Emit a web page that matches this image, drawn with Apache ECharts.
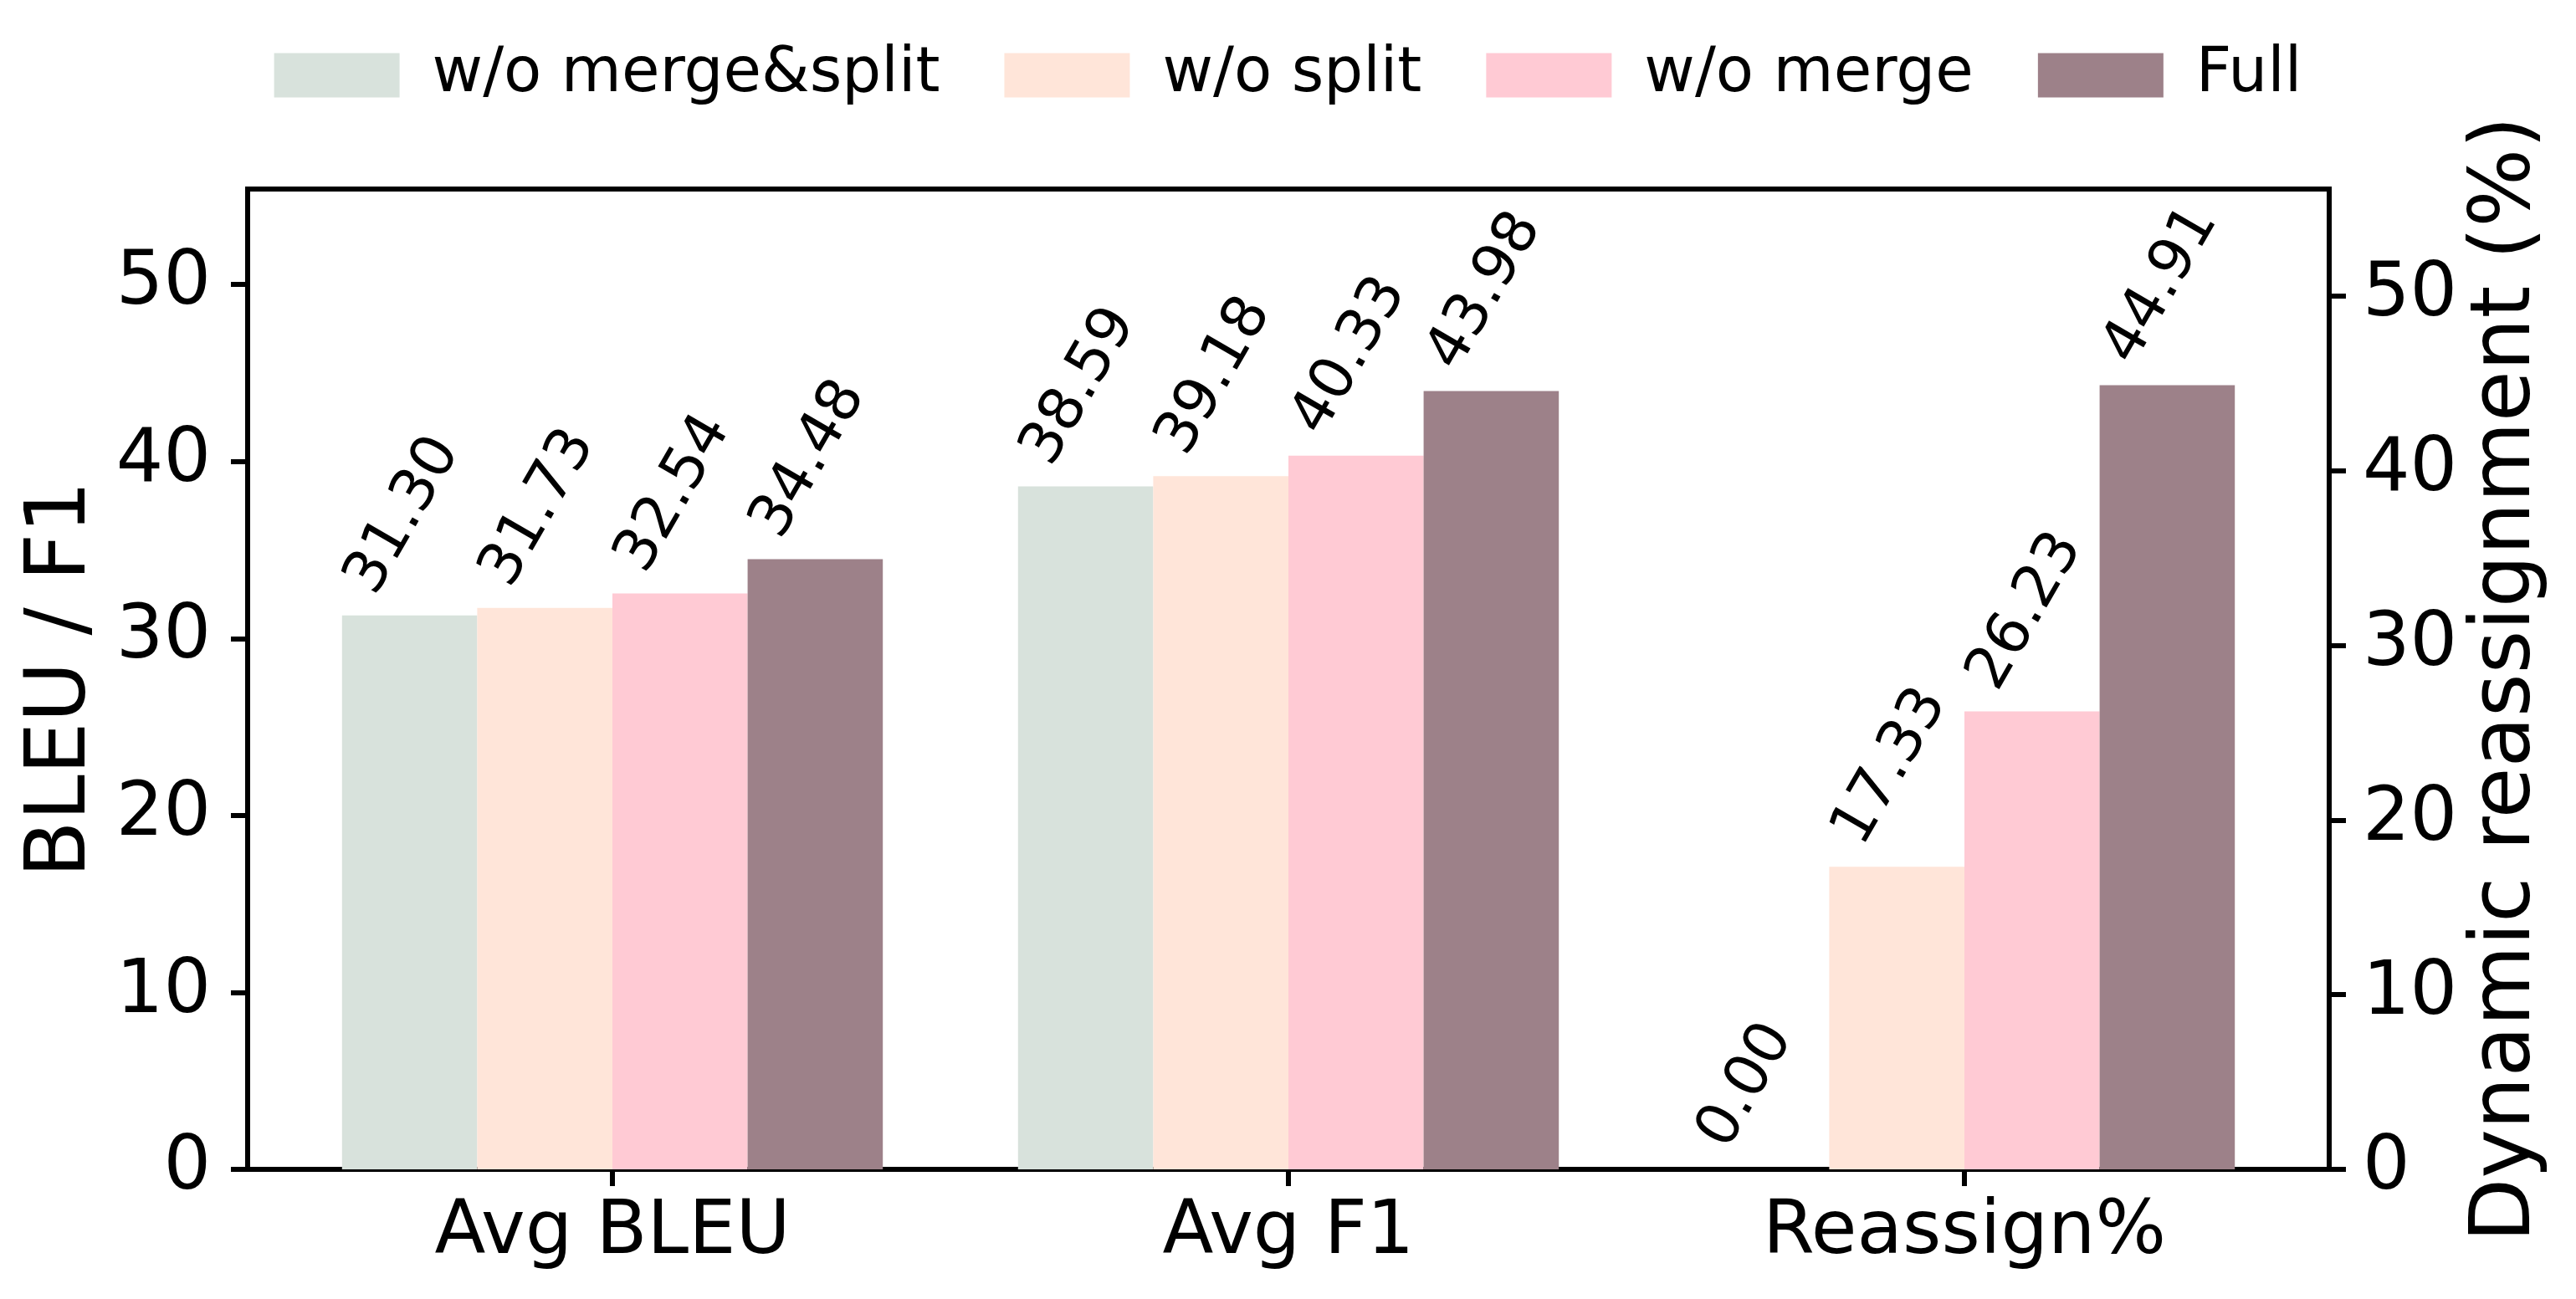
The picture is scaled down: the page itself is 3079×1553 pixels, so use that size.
<!DOCTYPE html>
<html lang="en">
<head>
    <meta charset="UTF-8">
    <title>Ablation</title>
    <script src="https://cdn.jsdelivr.net/npm/echarts@6/dist/echarts.min.js"></script>
    <style>
        html, body { margin: 0; padding: 0; background: #fff; }
        #container { width: 3079px; height: 1553px; }
    </style>
</head>
<body>
<div id="container"></div>
<script type="text/javascript">
    // data
    const categories = ['Avg BLEU', 'Avg F1', 'Reassign%'];
    const variants = ['w/o merge&split', 'w/o split', 'w/o merge', 'Full'];
    const colors = ['#D8E2DC', '#FFE5D9', '#FFCAD4', '#9D8189'];
    // BLEU / F1 (left axis)
    const avgBleu = [31.30, 31.73, 32.54, 34.48];
    const avgF1 = [38.59, 39.18, 40.33, 43.98];
    // Reassign% (right axis)
    const reassign = [0.00, 17.33, 26.23, 44.91];
    const yTicks = [0, 10, 20, 30, 40, 50];
    const leftMax = 55.4;
    const rightMax = 56.14;

    const FONT = 'DejaVu Sans';
    const plot = {left: 296, top: 226, width: 2488, height: 1172};
    const band = 808;

    let dom = document.getElementById('container');
    let myChart = echarts.init(dom);

    const labelCfg = {
        show: true,
        position: 'top',
        distance: 14,
        rotate: 60,
        align: 'left',
        verticalAlign: 'bottom',
        offset: [-14, -23],
        fontFamily: FONT,
        fontSize: 71,
        color: '#000',
        formatter: function (p) { return Number(p.value).toFixed(2); }
    };

    let series = [];
    variants.forEach(function (name, i) {
        series.push({
            name: name, type: 'bar', xAxisIndex: 0, yAxisIndex: 0,
            barWidth: '20%', barGap: '0%',
            itemStyle: {color: colors[i]},
            label: labelCfg,
            data: [avgBleu[i], avgF1[i], '-']
        });
    });
    variants.forEach(function (name, i) {
        series.push({
            name: name, type: 'bar', xAxisIndex: 1, yAxisIndex: 1,
            barWidth: '20%', barGap: '0%',
            itemStyle: {color: colors[i]},
            label: labelCfg,
            data: ['-', '-', reassign[i]]
        });
    });

    const yCommon = {
        type: 'value', gridIndex: 1, min: 0,
        splitLine: {show: false},
        axisLine: {show: false},
        axisTick: {show: true, length: 20, lineStyle: {color: '#000', width: 6}, customValues: yTicks},
        axisLabel: {fontFamily: FONT, fontSize: 89, color: '#000', customValues: yTicks},
        nameLocation: 'middle', nameRotate: 90,
        nameTextStyle: {fontFamily: FONT, fontSize: 99, color: '#000'}
    };

    option = {
        animation: false,
        backgroundColor: '#fff',
        legend: {
            data: variants,
            icon: 'rect',
            left: 'center', top: 53,
            itemWidth: 150, itemHeight: 53, itemGap: 77,
            padding: 0,
            textStyle: {fontFamily: FONT, fontSize: 74, color: '#000', padding: [0, 0, 0, 34]}
        },
        grid: [
            // bars
            {left: plot.left + (plot.width - band * 3) / 2, top: plot.top, width: band * 3, height: plot.height},
            // frame
            {left: plot.left, top: plot.top, width: plot.width, height: plot.height,
             show: true, borderColor: '#000', borderWidth: 6, backgroundColor: 'transparent'}
        ],
        xAxis: [
            {type: 'category', gridIndex: 0, data: categories, position: 'bottom',
             axisLine: {show: false},
             axisTick: {show: true, alignWithLabel: true, length: 20, lineStyle: {color: '#000', width: 6}},
             axisLabel: {fontFamily: FONT, fontSize: 89, color: '#000', margin: 32}},
            {type: 'category', gridIndex: 0, data: categories, show: false},
            {type: 'value', gridIndex: 1, min: 0, max: 1, show: false}
        ],
        yAxis: [
            {type: 'value', gridIndex: 0, min: 0, max: leftMax, show: false},
            {type: 'value', gridIndex: 0, min: 0, max: rightMax, show: false},
            Object.assign({}, yCommon, {position: 'left', max: leftMax, name: 'BLEU / F1', nameGap: 171,
                axisLabel: Object.assign({}, yCommon.axisLabel, {margin: 44})}),
            Object.assign({}, yCommon, {position: 'right', max: rightMax, name: 'Dynamic reassignment (%)', nameGap: 162,
                axisLabel: Object.assign({}, yCommon.axisLabel, {margin: 40})})
        ],
        series: series
    };
    myChart.setOption(option);
</script>
</body>
</html>
